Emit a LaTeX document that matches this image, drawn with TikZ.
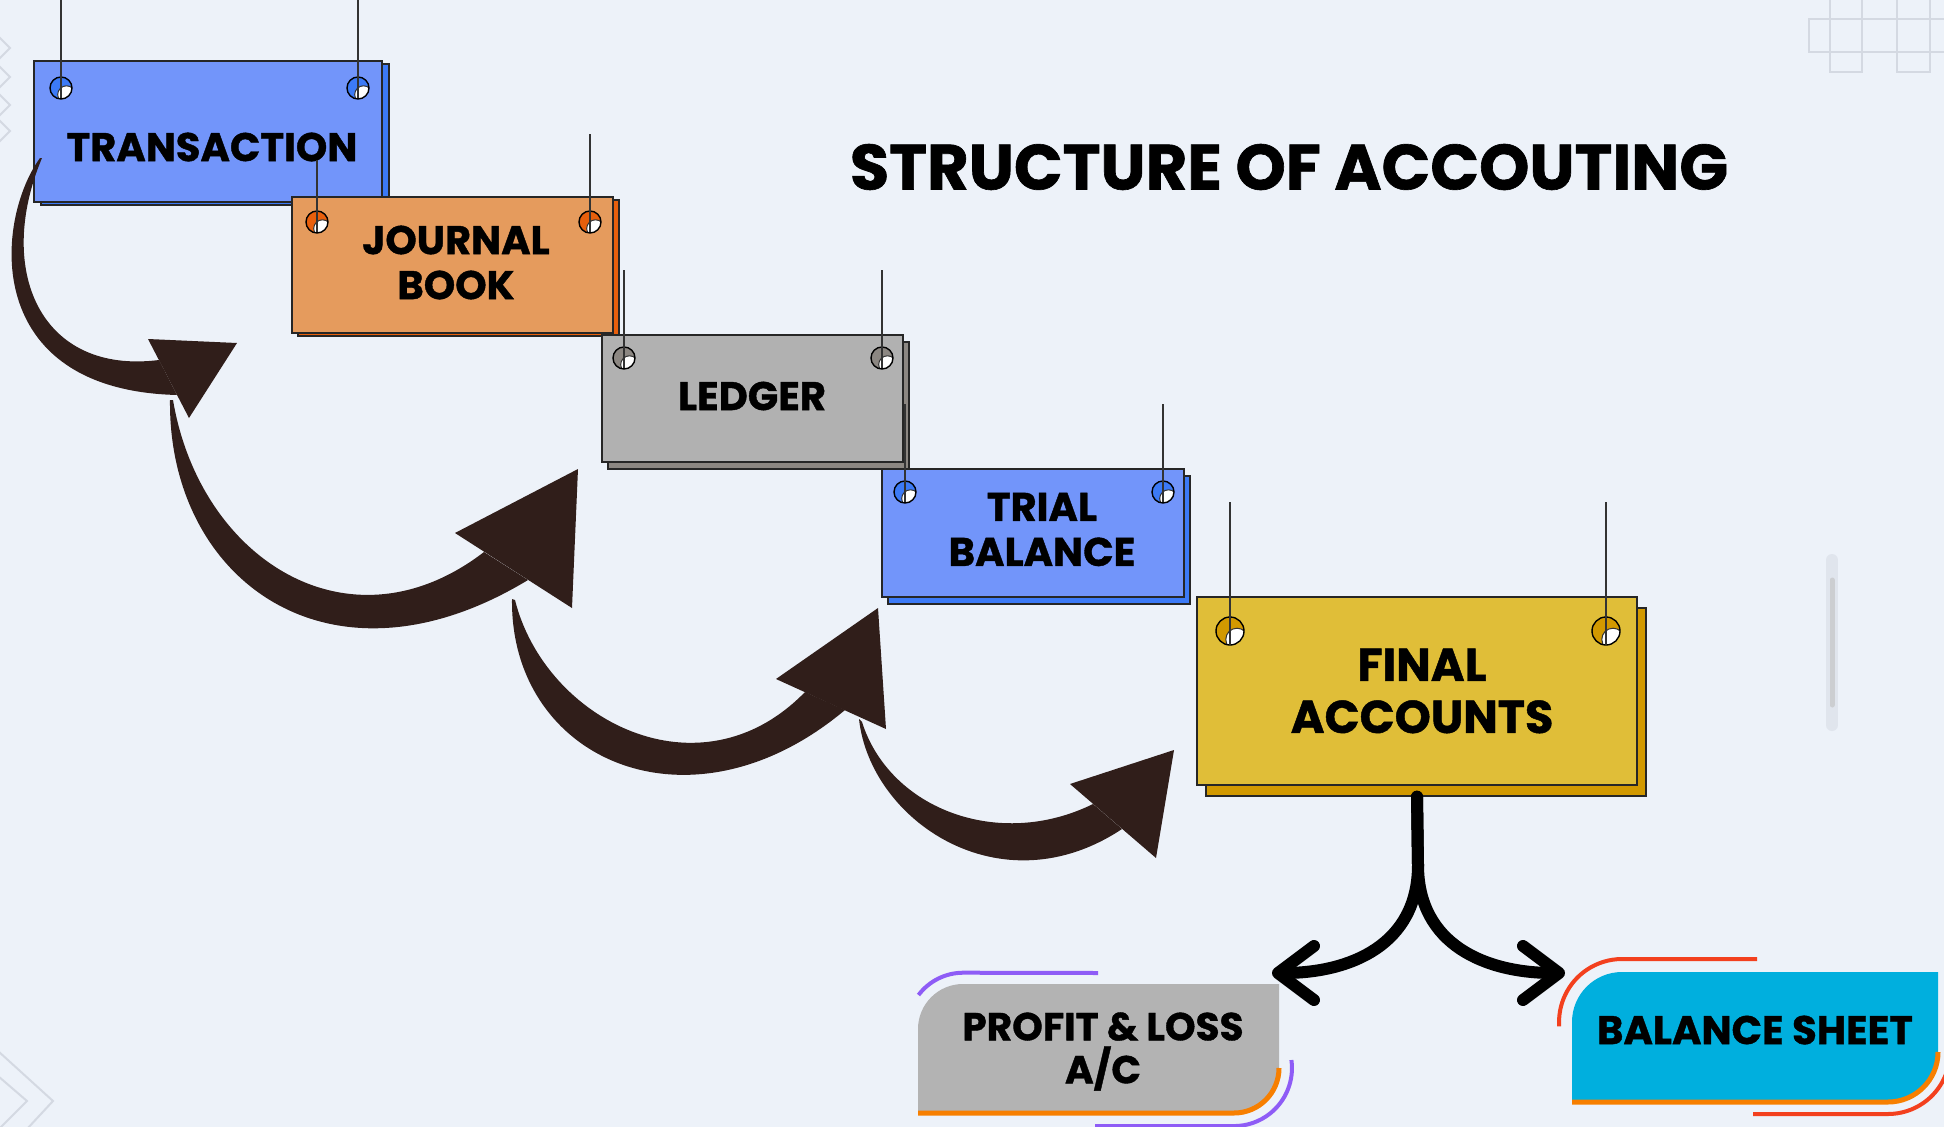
\documentclass[tikz,border=0pt]{standalone}
\usepackage{fontspec}
\setmainfont{Poppins}[BoldFeatures={FakeBold=1}]
\usetikzlibrary{arrows.meta,shadows}

\definecolor{bgcol}{RGB}{237,242,249}
\definecolor{decogray}{RGB}{212,217,226}
\definecolor{transfill}{RGB}{114,149,250}
\definecolor{transshade}{RGB}{60,122,246}
\definecolor{jourfill}{RGB}{229,155,93}
\definecolor{jourshade}{RGB}{232,95,12}
\definecolor{ledgfill}{RGB}{177,177,177}
\definecolor{ledgshade}{RGB}{140,135,130}
\definecolor{finfill}{RGB}{224,190,56}
\definecolor{finshade}{RGB}{210,153,0}
\definecolor{arrowbrown}{RGB}{48,30,26}
\definecolor{plfill}{RGB}{179,179,179}
\definecolor{plline}{RGB}{142,92,246}
\definecolor{edgeorange}{RGB}{247,127,0}
\definecolor{bsfill}{RGB}{0,175,222}
\definecolor{bsline}{RGB}{243,64,30}

\tikzset{
  signbox/.style={draw=black!85,line width=1.4pt,inner sep=0pt},
  signtext/.style={font=\bfseries\fontsize{40}{45}\selectfont,align=center,inner sep=0pt},
  hanger/.style={draw=black!80,line width=1.6pt},
  bigarrow/.style={fill=arrowbrown},
  fork/.style={line width=12pt,line cap=round,-{Straight Barb[length=36pt,width=54pt,round]}},
  deco/.style={draw=decogray,line width=2pt},
}

% x, top of string, y, radius, colour
\newcommand\signhole[5]{
  \begin{scope}
    \clip (#1,#3) circle[radius=#4];
    \fill[#5] (#1,#3) circle[radius=#4];
    \filldraw[fill=white,draw=black!80,line width=1pt] (#1+0.5*#4,#3+0.6*#4) circle[radius=0.8*#4];
  \end{scope}
  \draw[line width=1.4pt] (#1,#3) circle[radius=#4];
  \draw[hanger] (#1,#2) -- (#1,#3+0.9*#4);
}

\begin{document}
\begin{tikzpicture}[x=1pt,y=-1pt]
  \fill[bgcol] (0,0) rectangle (1944,1127);
  \useasboundingbox (0,0) rectangle (1944,1127);

  % background bits
  \draw[deco] (1809,19) rectangle (1960,52);
  \draw[deco] (1830,-5) rectangle (1862,72);
  \draw[deco] (1897,-5) rectangle (1930,72);
  \foreach \y in {48,77,105,131}
    \draw[deco] (-2,\y-12) -- (10,\y) -- (-2,\y+12);
  \draw[deco] (-2,1051) -- (53,1101) -- (27,1129);
  \draw[deco] (-2,1076) -- (27,1101) -- (0,1128);
  \draw[line cap=round,line width=12pt,decogray,opacity=0.5] (1832,560) -- (1832,725);
  \draw[line cap=round,line width=5pt,black!25,opacity=0.6] (1832,580) -- (1832,705);

  \node[signtext,font=\bfseries\fontsize{64}{70}\selectfont] (title) at (1289,167) {STRUCTURE OF ACCOUTING};

  % hanging signs
  \node[signbox,fill=transfill,minimum width=348pt,minimum height=141pt,
        copy shadow={shadow xshift=7pt,shadow yshift=-3pt,fill=transshade,draw=black!85}] (trans) at (208,131.5) {};
  \signhole{61}{0}{88}{11}{transshade}
  \signhole{358}{0}{88}{11}{transshade}
  \node[signtext] (transtxt) at (212,147) {TRANSACTION};

  \node[signbox,fill=jourfill,minimum width=321pt,minimum height=136pt,
        copy shadow={shadow xshift=6pt,shadow yshift=-3pt,fill=jourshade,draw=black!85}] (jour) at (452.5,265) {};
  \signhole{317}{160}{222}{11}{jourshade}
  \signhole{590}{134}{222}{11}{jourshade}
  \node[signtext] (jourtxt) at (456,262.5) {JOURNAL\\BOOK};

  \node[signbox,fill=ledgfill,minimum width=301pt,minimum height=127pt,
        copy shadow={shadow xshift=6pt,shadow yshift=-7pt,fill=ledgshade,draw=black!85}] (ledg) at (752.5,398.5) {};
  \signhole{624}{270}{358}{11}{ledgshade}
  \signhole{882}{270}{358}{11}{ledgshade}
  \node[signtext] (ledgtxt) at (752,396) {LEDGER};

  \node[signbox,fill=transfill,minimum width=302pt,minimum height=128pt,
        copy shadow={shadow xshift=6pt,shadow yshift=-7pt,fill=transshade,draw=black!85}] (trial) at (1033,533) {};
  \signhole{905}{404}{492}{11}{transshade}
  \signhole{1163}{404}{492}{11}{transshade}
  \node[signtext] (trialtxt) at (1042,529.5) {TRIAL\\BALANCE};

  \node[signbox,fill=finfill,minimum width=440pt,minimum height=188pt,
        copy shadow={shadow xshift=9pt,shadow yshift=-11pt,fill=finshade,draw=black!85}] (final) at (1417,691) {};
  \signhole{1230}{502}{631}{14}{finshade}
  \signhole{1606}{502}{631}{14}{finshade}
  \node[signtext,font=\bfseries\fontsize{46}{52}\selectfont] (fintxt) at (1422,691) {FINAL\\ACCOUNTS};

  % big brown arrows
  \fill[bigarrow] (40,158) .. controls (-5,220) and (-20,390) .. (177,395)
    -- (159,360) .. controls (40,375) and (-5,270) .. (42,158) -- cycle;
  \fill[bigarrow] (148,339) -- (237,343) -- (189,418) -- cycle;
  \fill[bigarrow] (170,400) .. controls (168,580) and (330,700) .. (528,580)
    -- (484,552) .. controls (350,655) and (200,560) .. (173,400) -- cycle;
  \fill[bigarrow] (455,533) -- (578,469) -- (572,608) -- cycle;
  \fill[bigarrow] (512,599) .. controls (510,760) and (690,840) .. (845,710)
    -- (805,692) .. controls (700,800) and (545,720) .. (515,600) -- cycle;
  \fill[bigarrow] (776,679) -- (878,608) -- (886,729) -- cycle;
  \fill[bigarrow] (859,719) .. controls (870,820) and (1000,910) .. (1122,829)
    -- (1093,804) .. controls (1000,850) and (890,810) .. (862,722) -- cycle;
  \fill[bigarrow] (1070,784) -- (1174,750) -- (1156,858) -- cycle;

  % result boxes
  \fill[plfill] (918,1113) -- (918,1029) arc[start angle=180,end angle=270,radius=45]
    -- (1279,984) -- (1279,1068) arc[start angle=0,end angle=90,radius=45] -- cycle;
  \draw[edgeorange,line width=5pt] (918,1113) -- (1234,1113) arc[start angle=90,end angle=0,radius=45];
  \draw[plline,line width=4pt] (918.5,995) arc[start angle=217,end angle=270,radius=56] -- (1098,973);
  \draw[plline,line width=4pt] (1291.4,1060) arc[start angle=-8,end angle=90,radius=58] -- (1095,1126);
  \node[signtext,font=\bfseries\fontsize{39}{43}\selectfont] (pl) at (1103,1051.5) {PROFIT \& LOSS\\A/C};

  \fill[bsfill] (1572,1102) -- (1572,1022) arc[start angle=180,end angle=270,radius=50]
    -- (1938,972) -- (1938,1052) arc[start angle=0,end angle=90,radius=50] -- cycle;
  \draw[edgeorange,line width=5pt] (1572,1102) -- (1888,1102) arc[start angle=90,end angle=0,radius=50];
  \draw[bsline,line width=4pt] (1559.2,1026.4) arc[start angle=176,end angle=270,radius=63] -- (1757,959);
  \draw[bsline,line width=4pt] (1949.8,1046.6) arc[start angle=-5,end angle=90,radius=62] -- (1753,1114);
  \node[signtext] (bs) at (1755,1030) {BALANCE SHEET};

  % split below final accounts
  \coordinate (forksplit) at (1418,865);
  \coordinate (pltip) at (1272,973);
  \coordinate (bstip) at (1565,973);
  \draw[fork] ([yshift=-11pt]final.south) -- (forksplit) .. controls (1418,945) and (1350,973) .. (pltip);
  \draw[fork] ([yshift=-11pt]final.south) -- (forksplit) .. controls (1418,945) and (1486,973) .. (bstip);
\end{tikzpicture}
\end{document}
